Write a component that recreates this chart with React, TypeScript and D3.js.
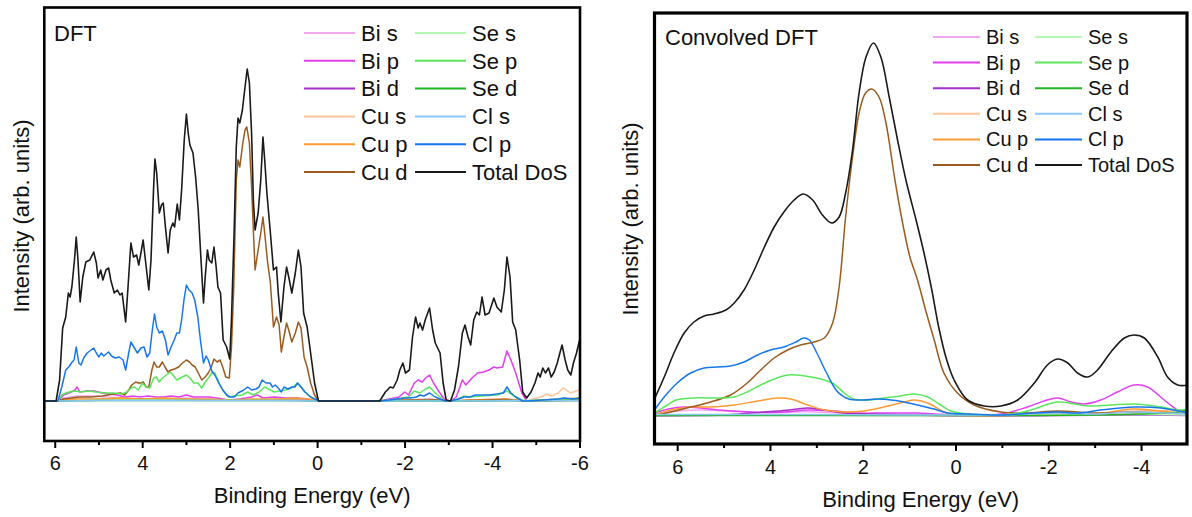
import React from "react";
import * as d3 from "d3";

type Pt = [number, number];

// Orbital-projected density of states, [binding energy (eV), intensity (arb. units)]
const LABELS = ["Bi s", "Bi p", "Bi d", "Cu s", "Cu p", "Cu d", "Se s", "Se p", "Se d", "Cl s", "Cl p", "Total DoS"];
const COLORS = ["#f2a6f2", "#e23ff0", "#a52fc9", "#ffc399", "#ff9b33", "#9c5b1e", "#b3f7b3", "#5ce65c", "#22b522", "#8cc6fa", "#1777ea", "#1a1a1a"];

// ---- raw DFT ----
const DFT_BI_S: Pt[] = [[6.25,0],[5.94,0],[5.8,0.3],[5.5,0.5],[5.2,0.5],[4.8,0.4],[4.4,0.3],[4.0,0.2],[3.5,0.2],[3.0,0.3],[2.5,0.2],[2.0,0.1],[1.5,0.1],[1.0,0.1],[0.5,0.1],[-0.02,0],[-1.42,0],[-2.0,0.1],[-2.5,0.2],[-3.0,0],[-3.5,0.1],[-4.3,0.2],[-4.7,0],[-6,0.05]];
const DFT_BI_P: Pt[] = [[6.25,0],[5.94,0],[5.81,0.6],[5.63,0.9],[5.55,1.1],[5.5,1.4],[5.44,0.9],[5.28,1.0],[5.11,1.0],[4.93,0.8],[4.76,0.7],[4.58,0.6],[4.41,0.4],[4.23,0.5],[4.06,0.4],[3.88,0.5],[3.7,0.4],[3.53,0.4],[3.35,0.5],[3.18,0.4],[3.0,0.6],[2.83,0.4],[2.65,0.4],[2.48,0.4],[2.3,0.3],[2.04,0.1],[1.78,0.2],[1.51,0.4],[1.38,0.6],[1.25,0.3],[0.99,0.4],[0.73,0.3],[0.46,0.3],[0.29,0.2],[-0.02,0],[-1.42,0],[-1.64,0.2],[-1.86,0.4],[-1.99,0.9],[-2.08,0.6],[-2.21,1.8],[-2.3,2.1],[-2.39,1.9],[-2.47,2.3],[-2.56,2.6],[-2.65,1.8],[-2.78,0.9],[-2.91,0.1],[-3.04,0],[-3.17,0.4],[-3.31,2.1],[-3.39,1.6],[-3.53,2.3],[-3.66,2.8],[-3.79,2.9],[-3.92,3.1],[-4.03,3.4],[-4.1,3.3],[-4.23,3.4],[-4.33,5.0],[-4.42,4.1],[-4.53,2.8],[-4.67,0.8],[-4.78,0],[-5.41,0.1],[-6.0,0.2]];
const DFT_BI_D: Pt[] = [[6.25,0],[5.94,0],[5.5,0.15],[4.5,0.15],[4.0,0.2],[3.5,0.1],[2.5,0.1],[1.5,0.1],[0.5,0.1],[-0.02,0],[-1.42,0],[-2.5,0.1],[-3.0,0],[-4.3,0.1],[-4.8,0],[-6,0.1]];
const DFT_CU_S: Pt[] = [[6.25,0],[5.94,0],[5.5,0.1],[4.5,0.2],[3.5,0.1],[2.5,0.1],[1.5,0.1],[0.5,0.1],[-0.02,0],[-1.42,0],[-2.5,0.1],[-3.0,0],[-4.3,0.1],[-4.8,0],[-4.93,0.2],[-5.1,0.4],[-5.24,0.7],[-5.35,0.5],[-5.5,0.8],[-5.62,1.3],[-5.78,0.8],[-5.98,1.1],[-6.0,1.1]];
const DFT_CU_P: Pt[] = [[6.25,0],[5.94,0],[5.6,0.2],[5.0,0.2],[4.5,0.3],[4.0,0.2],[3.5,0.3],[3.0,0.2],[2.5,0.2],[2.0,0.1],[1.5,0.2],[1.0,0.2],[0.5,0.3],[0.2,0.2],[-0.02,0],[-1.42,0],[-2.0,0.1],[-2.5,0.1],[-3.0,0],[-3.5,0.1],[-4.3,0.2],[-4.8,0],[-5.5,0.2],[-6,0.3]];
const DFT_CU_D: Pt[] = [[6.25,0],[5.94,0],[5.81,0.2],[5.63,0.3],[5.46,0.4],[5.2,0.4],[4.93,0.5],[4.67,0.7],[4.51,0.8],[4.41,0.6],[4.32,1.1],[4.25,1.6],[4.16,1.9],[4.1,1.8],[4.04,1.8],[3.99,1.9],[3.92,1.4],[3.86,1.4],[3.79,3.1],[3.74,3.9],[3.68,3.4],[3.62,3.4],[3.55,3.9],[3.49,3.4],[3.42,2.9],[3.35,3.1],[3.27,3.2],[3.18,3.4],[3.09,3.8],[3.0,4.1],[2.93,3.9],[2.87,3.6],[2.8,3.4],[2.74,2.9],[2.65,2.1],[2.57,2.4],[2.5,2.8],[2.43,3.4],[2.37,4.2],[2.3,3.9],[2.23,4.1],[2.17,3.4],[2.1,2.4],[2.02,2.3],[1.97,5.4],[1.92,11.1],[1.86,22.1],[1.82,24.1],[1.78,23.4],[1.71,25.8],[1.66,27.1],[1.62,27.4],[1.56,25.8],[1.51,21.4],[1.47,17.1],[1.43,13.1],[1.36,15.1],[1.3,16.8],[1.25,18.4],[1.21,16.8],[1.15,14.1],[1.08,11.8],[1.01,7.4],[0.94,8.4],[0.88,7.6],[0.83,4.9],[0.77,6.4],[0.71,7.8],[0.66,7.1],[0.59,5.9],[0.51,6.8],[0.44,7.9],[0.38,7.3],[0.31,4.4],[0.24,3.4],[0.16,1.8],[0.07,0.6],[-0.02,0],[-1.42,0],[-2.2,0.1],[-2.6,0.15],[-3.0,0],[-4.3,0.15],[-4.8,0],[-6,0.1]];
const DFT_SE_S: Pt[] = [[6.25,0],[5.94,0],[5.5,0.05],[4.0,0.1],[2.5,0.05],[1.0,0.05],[-0.02,0],[-1.42,0],[-2.5,0.05],[-3.0,0],[-4.3,0.05],[-6,0.05]];
const DFT_SE_P: Pt[] = [[6.25,0],[5.94,0],[5.85,0.6],[5.76,0.8],[5.68,0.9],[5.55,1.0],[5.41,0.9],[5.24,1.0],[5.06,0.9],[4.84,0.8],[4.67,0.8],[4.49,0.7],[4.36,0.9],[4.27,1.3],[4.19,1.4],[4.1,1.1],[4.01,1.8],[3.92,1.4],[3.84,1.3],[3.75,2.3],[3.69,2.4],[3.62,1.9],[3.55,2.3],[3.46,2.6],[3.37,2.9],[3.31,2.6],[3.22,2.1],[3.14,2.3],[3.0,2.6],[2.92,2.3],[2.83,1.8],[2.74,1.8],[2.65,1.3],[2.57,1.9],[2.48,2.4],[2.41,2.9],[2.35,2.8],[2.26,1.9],[2.17,1.1],[2.04,0.4],[1.91,0.5],[1.73,0.6],[1.6,0.9],[1.47,0.6],[1.34,0.9],[1.21,1.4],[1.08,1.1],[0.99,0.9],[0.86,1.0],[0.73,1.1],[0.59,1.3],[0.46,1.8],[0.38,1.4],[0.29,0.9],[0.16,0.4],[-0.02,0],[-1.42,0],[-1.82,0.2],[-2.08,0.4],[-2.21,1.0],[-2.34,0.8],[-2.47,1.2],[-2.56,1.4],[-2.69,0.8],[-2.91,0],[-3.04,0],[-3.22,0.2],[-3.35,0.5],[-3.48,0.4],[-3.74,0.5],[-4.1,0.6],[-4.33,1.0],[-4.49,0.5],[-4.71,0],[-5.15,0.1],[-5.59,0.2],[-6.0,0.2]];
const DFT_SE_D: Pt[] = [[6.25,0],[5.94,0],[5.0,0.05],[3.5,0.05],[2.0,0.05],[0.5,0.05],[-0.02,0],[-1.42,0],[-3.0,0],[-6,0.05]];
const DFT_CL_S: Pt[] = [[6.25,0],[5.94,0],[5.0,0.05],[3.0,0.05],[1.0,0.05],[-0.02,0],[-1.42,0],[-3.0,0],[-6,0.05]];
const DFT_CL_P: Pt[] = [[6.25,0],[5.94,0],[5.85,1.4],[5.76,3.1],[5.69,3.4],[5.63,3.8],[5.57,4.1],[5.52,5.4],[5.46,3.8],[5.41,3.6],[5.35,4.3],[5.27,4.8],[5.12,5.3],[5.06,4.8],[5.0,4.4],[4.95,4.8],[4.89,4.5],[4.78,4.9],[4.71,4.5],[4.63,4.3],[4.54,4.4],[4.45,4.1],[4.39,3.1],[4.32,4.8],[4.27,5.9],[4.19,5.3],[4.12,4.8],[4.04,5.3],[3.97,5.4],[3.9,4.4],[3.84,4.8],[3.78,7.1],[3.73,8.7],[3.68,7.4],[3.62,6.8],[3.55,7.0],[3.48,6.1],[3.42,4.6],[3.35,5.4],[3.28,6.1],[3.22,6.8],[3.16,6.8],[3.11,8.1],[3.05,10.3],[3.0,11.6],[2.94,11.1],[2.87,10.8],[2.81,10.1],[2.74,8.4],[2.68,6.1],[2.61,3.8],[2.55,4.5],[2.5,4.1],[2.45,3.4],[2.41,2.9],[2.35,2.6],[2.26,1.8],[2.17,1.1],[2.08,0.6],[2.0,0.4],[1.91,0.4],[1.82,0.8],[1.69,1.1],[1.6,1.4],[1.51,1.1],[1.41,1.2],[1.34,1.4],[1.27,2.1],[1.18,1.8],[1.09,1.8],[1.03,1.4],[0.97,1.6],[0.9,1.3],[0.83,0.9],[0.77,1.4],[0.68,1.2],[0.59,1.4],[0.52,1.4],[0.46,1.8],[0.38,1.4],[0.29,0.9],[0.16,0.4],[0.02,0.1],[-0.05,0],[-1.42,0],[-1.64,0.1],[-1.82,0.2],[-1.99,0.3],[-2.12,0.3],[-2.26,0.4],[-2.34,0.6],[-2.43,0.5],[-2.56,0.8],[-2.69,0.4],[-2.91,0],[-3.04,0],[-3.22,0.2],[-3.35,0.4],[-3.48,0.4],[-3.61,0.6],[-3.76,0.6],[-3.92,0.6],[-4.1,0.7],[-4.25,0.8],[-4.33,1.4],[-4.42,0.8],[-4.53,0.4],[-4.69,0],[-4.8,0],[-5.15,0.1],[-5.5,0.2],[-5.63,0.3],[-5.85,0.2],[-6.0,0.3]];
const DFT_TOTAL: Pt[] = [[6.25,0],[5.98,0],[5.9,2.1],[5.83,7.3],[5.76,8.4],[5.7,10.8],[5.66,10.4],[5.62,11.4],[5.56,14.1],[5.52,16.4],[5.48,14.1],[5.43,9.9],[5.37,12.4],[5.3,13.9],[5.21,14.1],[5.12,14.9],[5.06,13.8],[5.02,12.3],[4.96,13.1],[4.91,12.1],[4.84,13.1],[4.78,13.3],[4.73,12.1],[4.65,10.8],[4.58,11.1],[4.52,10.6],[4.47,10.8],[4.39,7.9],[4.34,11.1],[4.27,15.8],[4.21,14.4],[4.14,14.6],[4.09,13.6],[4.04,14.8],[3.99,16.1],[3.92,13.4],[3.86,11.1],[3.81,14.1],[3.75,21.4],[3.72,24.2],[3.68,22.8],[3.62,18.8],[3.57,19.6],[3.53,19.8],[3.48,17.4],[3.42,14.8],[3.37,17.1],[3.31,17.8],[3.27,17.4],[3.21,19.7],[3.16,18.1],[3.11,21.1],[3.05,26.1],[3.0,28.7],[2.96,26.8],[2.92,25.6],[2.85,24.8],[2.79,22.4],[2.73,19.1],[2.67,14.4],[2.61,9.8],[2.57,12.4],[2.52,15.1],[2.48,14.1],[2.42,13.8],[2.37,15.4],[2.32,13.4],[2.28,11.4],[2.22,10.8],[2.16,6.1],[2.08,5.4],[2.01,4.2],[1.97,8.1],[1.91,16.8],[1.86,25.4],[1.82,28.3],[1.78,27.8],[1.72,29.1],[1.66,31.4],[1.61,33.2],[1.56,31.8],[1.51,26.8],[1.47,20.1],[1.43,17.1],[1.36,18.8],[1.3,22.1],[1.25,26.4],[1.21,24.1],[1.16,20.8],[1.08,16.8],[1.01,13.1],[0.94,13.4],[0.9,10.8],[0.84,7.9],[0.77,11.4],[0.71,13.4],[0.66,12.4],[0.59,10.8],[0.51,12.8],[0.44,15.1],[0.38,13.4],[0.32,8.8],[0.24,7.4],[0.16,4.8],[0.07,1.8],[-0.02,0],[-1.42,0],[-1.55,0.9],[-1.66,1.4],[-1.73,1.3],[-1.82,2.1],[-1.88,3.1],[-1.95,3.8],[-2.01,2.8],[-2.1,3.1],[-2.17,6.4],[-2.24,8.4],[-2.3,7.3],[-2.34,7.8],[-2.4,7.1],[-2.46,8.1],[-2.56,9.3],[-2.63,7.1],[-2.69,5.8],[-2.8,4.8],[-2.87,1.8],[-2.94,0.1],[-3.04,0],[-3.13,1.1],[-3.22,3.4],[-3.31,6.8],[-3.37,7.6],[-3.44,6.4],[-3.5,5.6],[-3.57,8.1],[-3.64,8.9],[-3.7,8.6],[-3.76,10.4],[-3.83,8.6],[-3.92,8.8],[-4.03,10.3],[-4.1,9.4],[-4.2,8.9],[-4.27,11.1],[-4.33,14.4],[-4.4,12.4],[-4.46,7.9],[-4.53,7.1],[-4.62,4.1],[-4.69,0.9],[-4.78,0.3],[-4.88,0.9],[-4.97,1.8],[-5.04,2.8],[-5.09,2.4],[-5.15,3.3],[-5.21,2.8],[-5.28,3.3],[-5.34,2.4],[-5.41,2.9],[-5.48,3.8],[-5.54,4.8],[-5.59,5.6],[-5.66,4.1],[-5.72,3.1],[-5.79,2.6],[-5.85,3.8],[-5.92,4.8],[-5.98,5.9],[-6.0,6.2]];

// ---- broadened (convolved) DFT ----
const CONV_BI_S: Pt[] = [[6.5,0.2],[6.0,0.5],[5.5,0.6],[5.0,0.5],[4.5,0.4],[4.0,0.3],[3.5,0.4],[3.0,0.4],[2.5,0.3],[2.0,0.2],[1.5,0.2],[1.0,0.2],[0.5,0.1],[0,0.05],[-1,0.05],[-2.2,0.15],[-3,0.1],[-3.8,0.2],[-4.5,0.1],[-5.0,0.1]];
const CONV_BI_P: Pt[] = [[6.5,0.3],[6.2,0.7],[5.86,0.9],[5.5,0.8],[5.14,0.6],[4.8,0.5],[4.42,0.4],[3.71,0.4],[3.2,0.6],[2.63,0.5],[2.12,0.3],[1.55,0.3],[0.83,0.3],[0.47,0.2],[-0.25,0.1],[-0.97,0.2],[-1.54,0.9],[-1.9,1.5],[-2.19,1.8],[-2.48,1.4],[-2.76,1.2],[-3.12,1.6],[-3.48,2.4],[-3.84,3.1],[-4.13,2.9],[-4.49,1.6],[-4.78,0.6],[-5.0,0.3]];
const CONV_BI_D: Pt[] = [[6.5,0],[5.5,0.05],[5.0,0.1],[4.42,0.3],[3.85,0.5],[3.42,0.7],[3.2,0.8],[2.84,0.6],[2.41,0.3],[1.91,0.2],[1.0,0.1],[0,0],[-2.2,0.05],[-3.8,0.1],[-5.0,0.05]];
const CONV_CU_S: Pt[] = [[6.5,0.05],[5,0.1],[4,0.1],[3,0.1],[2,0.05],[1,0.05],[0,0.05],[-1,0.05],[-2.2,0.2],[-3,0.2],[-3.8,0.5],[-4.4,0.5],[-5.0,0.6]];
const CONV_CU_P: Pt[] = [[6.5,0.1],[6.15,0.6],[5.72,0.9],[5.29,0.9],[4.78,1.1],[4.28,1.5],[3.85,1.8],[3.56,1.7],[3.2,1.1],[2.84,0.6],[2.41,0.4],[1.98,0.5],[1.55,0.9],[1.12,1.4],[0.9,1.6],[0.61,1.3],[0.25,0.4],[0,0.1],[-1,0.05],[-2.2,0.3],[-3.0,0.2],[-3.8,0.7],[-4.4,0.5],[-5.0,0.2]];
const CONV_CU_D: Pt[] = [[6.5,0],[6.15,0.4],[5.72,0.9],[5.29,1.4],[4.86,2.1],[4.5,3.3],[4.21,4.6],[3.92,5.8],[3.63,6.6],[3.35,7.1],[3.06,7.4],[2.84,7.8],[2.66,9.3],[2.52,12.9],[2.38,19.9],[2.23,25.9],[2.09,30.3],[1.95,32.3],[1.82,32.7],[1.66,31.9],[1.51,29.3],[1.33,24.0],[1.18,20.0],[1.0,16.0],[0.83,13.6],[0.65,10.5],[0.47,7.6],[0.26,4.3],[-0.03,2.3],[-0.39,1.1],[-0.97,0.4],[-1.5,0.3],[-2.2,0.5],[-3.0,0.3],[-3.8,0.4],[-4.5,0.3],[-5.0,0.2]];
const CONV_SE_S: Pt[] = [[6.5,0.05],[4,0.1],[2,0.05],[0,0.05],[-2.2,0.1],[-3.8,0.15],[-5.0,0.1]];
const CONV_SE_P: Pt[] = [[6.5,0.3],[6.22,1.1],[6.04,1.6],[5.65,1.8],[5.07,1.8],[4.78,1.9],[4.5,2.4],[4.21,3.1],[3.92,3.7],[3.63,4.1],[3.42,4.1],[3.13,3.9],[2.84,3.6],[2.63,3.2],[2.41,2.3],[2.2,1.7],[1.91,1.6],[1.55,1.8],[1.19,2.0],[0.9,2.2],[0.61,1.9],[0.33,1.1],[0.11,0.5],[-0.25,0.2],[-0.97,0.1],[-1.54,0.5],[-2.19,1.4],[-2.84,1.0],[-3.34,1.1],[-3.84,1.2],[-4.42,0.9],[-4.78,0.6],[-5.0,0.7]];
const CONV_SE_D: Pt[] = [[6.5,0.05],[5,0.05],[3,0.05],[1,0.05],[-1,0.05],[-3,0.1],[-4,0.2],[-4.8,0.4],[-5.0,0.6]];
const CONV_CL_S: Pt[] = [[6.5,0.15],[5,0.15],[3,0.15],[1,0.1],[0,0.1],[-1,0.1],[-2.2,0.3],[-3,0.2],[-3.8,0.4],[-4.5,0.3],[-5.0,0.2]];
const CONV_CL_P: Pt[] = [[6.5,0.6],[6.29,1.9],[6.01,3.3],[5.72,4.3],[5.43,4.8],[5.14,4.9],[4.86,5.0],[4.57,5.4],[4.28,6.1],[4.0,6.6],[3.71,6.9],[3.45,7.4],[3.28,7.8],[3.16,7.6],[3.0,6.3],[2.79,4.3],[2.55,2.4],[2.31,1.7],[1.99,1.6],[1.69,1.7],[1.4,1.6],[1.12,1.4],[0.83,1.1],[0.47,0.7],[0.18,0.3],[-0.25,0.2],[-0.97,0.1],[-1.69,0.3],[-2.19,0.4],[-2.62,0.3],[-3.12,0.6],[-3.84,0.9],[-4.42,0.8],[-5.0,0.3]];
const CONV_TOTAL: Pt[] = [[6.51,1.6],[6.29,3.9],[6.08,6.3],[5.86,8.3],[5.65,9.4],[5.43,10.0],[5.22,10.2],[4.96,10.6],[4.78,11.3],[4.57,12.6],[4.35,14.6],[4.14,16.8],[3.92,18.9],[3.71,20.4],[3.49,21.6],[3.29,22.2],[3.09,21.6],[2.88,20.1],[2.68,19.3],[2.52,19.9],[2.38,22.3],[2.23,26.6],[2.09,32.3],[1.94,35.9],[1.78,37.3],[1.62,35.9],[1.44,31.9],[1.26,27.6],[1.08,23.6],[0.85,19.4],[0.69,16.3],[0.53,12.8],[0.36,8.6],[0.2,5.6],[0.04,3.6],[-0.25,1.6],[-0.61,1.0],[-0.97,1.0],[-1.33,1.6],[-1.69,3.3],[-1.97,5.1],[-2.19,5.7],[-2.41,5.3],[-2.62,4.3],[-2.84,3.9],[-3.05,4.6],[-3.34,6.4],[-3.63,7.8],[-3.84,8.1],[-4.06,7.8],[-4.35,5.9],[-4.56,3.9],[-4.78,3.1],[-5.03,3.1]];

const DFT_SERIES = [DFT_BI_S, DFT_BI_P, DFT_BI_D, DFT_CU_S, DFT_CU_P, DFT_CU_D, DFT_SE_S, DFT_SE_P, DFT_SE_D, DFT_CL_S, DFT_CL_P, DFT_TOTAL];
const CONV_SERIES = [CONV_BI_S, CONV_BI_P, CONV_BI_D, CONV_CU_S, CONV_CU_P, CONV_CU_D, CONV_SE_S, CONV_SE_P, CONV_SE_D, CONV_CL_S, CONV_CL_P, CONV_TOTAL];

const DFT_TICKS = [6, 4, 2, 0, -2, -4, -6];
const CONV_TICKS = [6, 4, 2, 0, -2, -4];

const FONT = "Arial, 'Liberation Sans', Helvetica, sans-serif";

interface PanelProps {
  id: string;
  left: number; right: number; top: number; bottom: number;
  xDomain: [number, number];
  yDomain: [number, number];
  series: Pt[][];
  ticks: number[];
  smooth: boolean;
  frameWidth: number;
  label: string;
  labelPos: [number, number];
  legend: { x: number; y: number; dy: number; line: number; gap: number; col2: number; size: number };
  tickBaseline: number;
  titleBaseline: number;
  yTitle: [number, number];
}

function Panel(p: PanelProps) {
  const x = d3.scaleLinear().domain(p.xDomain).range([p.left, p.right]);
  const y = d3.scaleLinear().domain(p.yDomain).range([p.bottom, p.top]);
  const line = d3
    .line<Pt>()
    .x((d) => x(d[0]))
    .y((d) => y(d[1]))
    .curve(p.smooth ? d3.curveCatmullRom.alpha(0.5) : d3.curveLinear);

  const [lo, hi] = [Math.min(...p.ticks), Math.max(...p.ticks)];
  const minor = d3.range(lo + 1, hi, 2).filter((v) => !p.ticks.includes(v));
  const clipId = `clip-${p.id}`;
  const cx = (p.left + p.right) / 2;

  return (
    <g>
      <defs>
        <clipPath id={clipId}>
          <rect x={p.left} y={p.top} width={p.right - p.left} height={p.bottom - p.top} />
        </clipPath>
      </defs>
      <g clipPath={`url(#${clipId})`}>
        {p.series.map((s, i) => (
          <path key={i} d={line(s) || ""} fill="none" stroke={COLORS[i]}
            strokeWidth={i === p.series.length - 1 ? 1.6 : 1.5} strokeLinejoin="round" />
        ))}
      </g>
      {/* ticks on the energy axis, pointing out of the frame */}
      {p.ticks.map((t) => (
        <g key={`t${t}`}>
          <line x1={x(t)} x2={x(t)} y1={p.bottom} y2={p.bottom + 7} stroke="#000" strokeWidth={2} />
          <text x={x(t)} y={p.tickBaseline} textAnchor="middle" fontSize={20} fontFamily={FONT} fill="#111">
            {t}
          </text>
        </g>
      ))}
      {minor.map((t) => (
        <line key={`m${t}`} x1={x(t)} x2={x(t)} y1={p.bottom} y2={p.bottom + 4} stroke="#000" strokeWidth={2} />
      ))}
      <rect x={p.left} y={p.top} width={p.right - p.left} height={p.bottom - p.top}
        fill="none" stroke="#000" strokeWidth={p.frameWidth} />
      <text x={cx} y={p.titleBaseline} textAnchor="middle" fontSize={22} fontFamily={FONT} fill="#111">
        Binding Energy (eV)
      </text>
      <text transform={`translate(${p.yTitle[0]},${p.yTitle[1]}) rotate(-90)`} textAnchor="middle"
        dy="0.35em" fontSize={22} fontFamily={FONT} fill="#111">
        Intensity (arb. units)
      </text>
      <text x={p.labelPos[0]} y={p.labelPos[1]} fontSize={22} fontFamily={FONT} fill="#111">
        {p.label}
      </text>
      {LABELS.map((name, i) => {
        const col = i < 6 ? 0 : 1;
        const row = i % 6;
        const lx = col === 0 ? p.legend.x : p.legend.col2;
        const ly = p.legend.y + row * p.legend.dy;
        return (
          <g key={name}>
            <line x1={lx} x2={lx + p.legend.line} y1={ly} y2={ly} stroke={COLORS[i]} strokeWidth={2} />
            <text x={lx + p.legend.line + p.legend.gap} y={ly} dy="0.35em" fontSize={p.legend.size}
              fontFamily={FONT} fill="#111">
              {name}
            </text>
          </g>
        );
      })}
    </g>
  );
}

export default function App() {
  return (
    <div style={{ position: "absolute", left: 0, top: 0 }}>
      <svg width={1192} height={517} viewBox="0 0 1192 517" style={{ display: "block", background: "#fff" }}>
        <Panel
          id="dft"
          left={44.3} right={580} top={7.5} bottom={441}
          xDomain={[6.25, -6]} yDomain={[-4.0, 39.35]}
          series={DFT_SERIES} ticks={DFT_TICKS} smooth={false} frameWidth={2.6}
          label="DFT" labelPos={[54, 40.5]}
          legend={{ x: 304, y: 33, dy: 27.8, line: 51, gap: 6, col2: 415, size: 22 }}
          tickBaseline={470} titleBaseline={503} yTitle={[21, 216]}
        />
        <Panel
          id="conv"
          left={654.5} right={1187} top={13} bottom={444}
          xDomain={[6.5, -4.98]} yDomain={[-2.8, 40.3]}
          series={CONV_SERIES} ticks={CONV_TICKS} smooth={true} frameWidth={3.2}
          label="Convolved DFT" labelPos={[665, 45]}
          legend={{ x: 933, y: 37, dy: 25.6, line: 47, gap: 6, col2: 1035, size: 20 }}
          tickBaseline={473.5} titleBaseline={507} yTitle={[630, 219]}
        />
      </svg>
    </div>
  );
}
